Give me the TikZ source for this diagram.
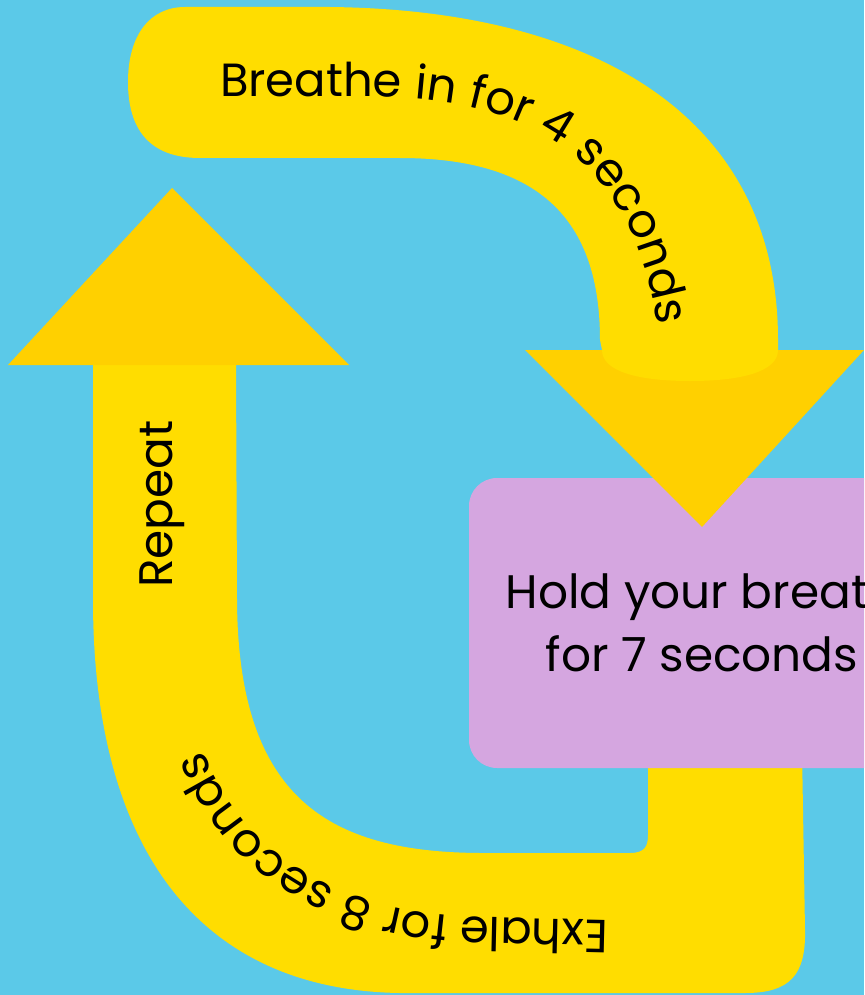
\documentclass[tikz,border=0pt]{standalone}
\usepackage{fontspec}
\setmainfont{Poppins}
\usetikzlibrary{decorations.text}
\definecolor{skyblue}{HTML}{5BC9E8}
\definecolor{bandyellow}{HTML}{FFDD00}
\definecolor{headyellow}{HTML}{FFD000}
\definecolor{lilac}{HTML}{D5A6E0}
\newcommand\bandfont{\fontsize{47}{56}\selectfont}
\newcommand\curvefont{\fontsize{46.5}{56}\selectfont}
\begin{document}
\begin{tikzpicture}[x=1pt,y=-1pt,
  band/.style={fill=bandyellow},
  head/.style={fill=headyellow},
  holdbox/.style={fill=lilac, rounded corners=28pt, minimum width=466pt, minimum height=290pt,
    align=center, font=\fontsize{47}{63}\selectfont, inner sep=0pt},
  steplabel/.style={font=\bandfont, inner sep=0pt},
  curvetext/.style={decorate, decoration={text along path, text align=left, text={|\curvefont|#1}}}]
\useasboundingbox (0,0) rectangle (864,995);
\fill[skyblue] (0,0) rectangle (864,995);
\clip (0,0) rectangle (864,995);

% bottom / left band (exhale, repeat)
\fill[band] (93,365) -- (236,365) -- (237,600)
  .. controls (238,800) and (330,852) .. (480,853) -- (630,853)
  .. controls (645,853) and (648,846) .. (648,835) -- (648,750) -- (802,750)
  -- (805,930) .. controls (806,975) and (790,993) .. (745,993) -- (400,993)
  .. controls (200,990) and (93,850) .. (93,600) -- cycle;

% hold box
\node[holdbox] (hold) at (702,623) {Hold your breath\\for 7 seconds};

% down arrow head
\coordinate (downtip) at (702,527);
\fill[head] (525,350) -- (864,350) -- (downtip) -- cycle;

% top band (breathe in)
\fill[band] (200,158) .. controls (150,158) and (128,130) .. (128,82)
  .. controls (128,35) and (150,7) .. (185,7) -- (330,7)
  .. controls (600,10) and (778,120) .. (778,340) -- (778,350)
  .. controls (778,372) and (740,381) .. (690,381)
  .. controls (640,381) and (602,372) .. (602,350) -- (600,340)
  .. controls (600,220) and (540,158) .. (400,158) -- cycle;

% up arrow head
\coordinate (uptip) at (172,188);
\fill[head] (8,365) -- (349,365) -- (uptip) -- cycle;

% texts
\path[curvetext={Breathe in for 4 seconds}] (220,97) -- (380,97)
  .. controls (565,100) and (662,190) .. (662,400);
\node[steplabel, rotate=90, anchor=base] (repeat) at (172,504) {Repeat};
\path[curvetext={Exhale for 8 seconds}] (608,920) -- (470,917)
  .. controls (330,910) and (228,850) .. (194,720) -- (189,650);
\end{tikzpicture}
\end{document}
